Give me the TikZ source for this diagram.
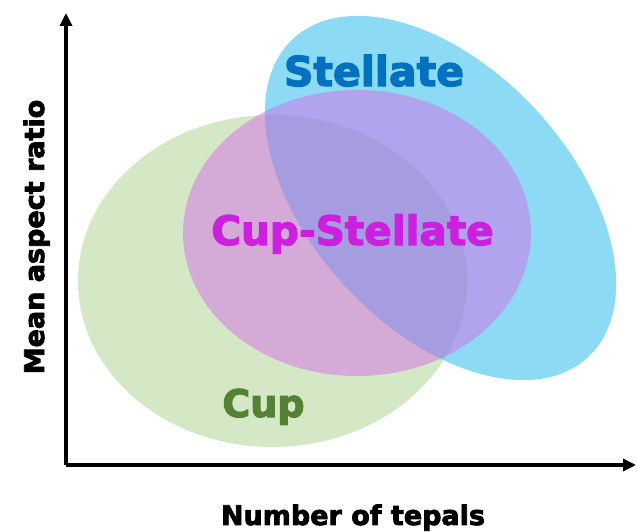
\documentclass[tikz,border=0pt]{standalone}
\usepackage{fontspec}
\setmainfont{DejaVu Sans}[BoldFeatures={FakeBold=3}]
\usetikzlibrary{arrows.meta}
\definecolor{cupfill}{RGB}{169,209,141}
\definecolor{stelfill}{RGB}{28,182,234}
\definecolor{csfill}{RGB}{212,110,232}
\definecolor{cuptext}{RGB}{84,130,53}
\definecolor{steltext}{RGB}{0,112,192}
\definecolor{cstext}{RGB}{204,31,224}
\tikzset{
  axisline/.style={line width=3.5bp, -{Triangle[width=12bp,length=13bp]}},
  blob/.style={fill opacity=0.5, draw=none},
  biglabel/.style={font=\bfseries\fontsize{#1}{#1}\selectfont, anchor=base, inner sep=0pt},
}
\begin{document}
\begin{tikzpicture}[x=1bp,y=1bp]
\useasboundingbox (0,0) rectangle (637,532);
% ellipses
\fill[blob, cupfill] (272.5,251) ellipse [x radius=194.5, y radius=166];
\fill[blob, stelfill, rotate around={-47.2:(440.5,334)}] (440.5,334) ellipse [x radius=217, y radius=130];
\fill[blob, csfill] (357,299) ellipse [x radius=174, y radius=143];
% axes
\coordinate (origin) at (66,67);
\coordinate (ytip) at (66,519);
\coordinate (xtip) at (636,67);
\draw[axisline] (origin) -- (ytip);
\draw[axisline] (origin) -- (xtip);
% labels
\node[biglabel=41bp, text=steltext] (stellate) at (374,446) {Stellate};
\node[biglabel=40.5bp, text=cstext] (cupstellate) at (352.5,287) {Cup-Stellate};
\node[biglabel=38bp, text=cuptext] (cup) at (263.5,115) {Cup};
\node[biglabel=27bp] (xlabel) at (353,7) {Number of tepals};
\node[biglabel=27bp, rotate=90] (ylabel) at (44,295) {Mean aspect ratio};
\end{tikzpicture}
\end{document}
